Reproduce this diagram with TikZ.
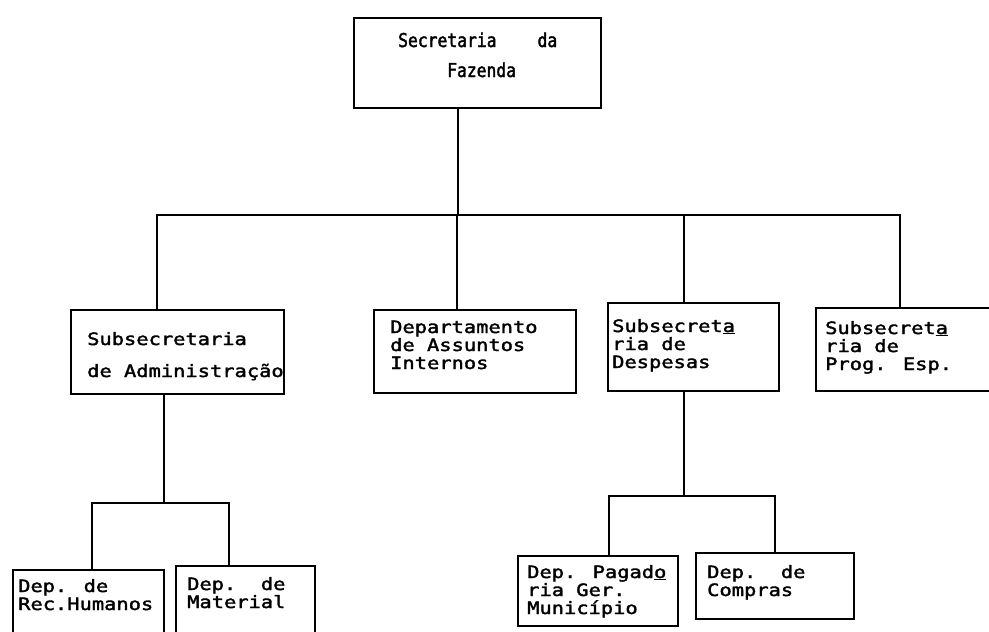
\documentclass[tikz,border=0pt]{standalone}
\usepackage{fontspec}
\newfontfamily\tw[FakeStretch=1.2,FakeBold=2]{DejaVu Sans Mono}
\newfontfamily\twtop[FakeStretch=0.86,FakeBold=2]{DejaVu Sans Mono}
\begin{document}
\begin{tikzpicture}[x=1pt,y=-1pt,
  box/.style={draw, line width=1.8pt, inner sep=0pt, anchor=north west},
  link/.style={line width=2.2pt, line cap=rect},
  txt/.style={inner sep=0pt, anchor=base west, font=\tw\fontsize{17}{18}\selectfont},
  toptxt/.style={inner sep=0pt, anchor=base west, font=\twtop\fontsize{19}{20}\selectfont}]
\useasboundingbox (0,0) rectangle (989,632);
\clip (0,0) rectangle (989,632);
\fill[white] (0,0) rectangle (989,632);
% boxes
\node[box, minimum width=247pt, minimum height=90pt] (sec) at (353,17) {};
\node[box, minimum width=213pt, minimum height=84pt] (adm) at (70,309) {};
\node[box, minimum width=202pt, minimum height=83pt] (dai) at (373,309) {};
\node[box, minimum width=171pt, minimum height=88pt] (desp) at (607,302) {};
\node[box, minimum width=190pt, minimum height=83pt] (prog) at (815,307) {};
\node[box, minimum width=151pt, minimum height=80pt] (rh) at (12,569) {};
\node[box, minimum width=139pt, minimum height=80pt] (mat) at (175,565) {};
\node[box, minimum width=160pt, minimum height=70pt] (pag) at (517,555) {};
\node[box, minimum width=158pt, minimum height=66pt] (comp) at (695,552) {};
% texts
\node[toptxt] (tsec1) at (398,47) {Secretaria\hspace{41pt}da};
\node[toptxt] (tsec2) at (447,77) {Fazenda};
\node[txt] (tadm1) at (87,345) {Subsecretaria};
\node[txt] (tadm2) at (87,377) {de Administração};
\node[txt] (tdai1) at (390,333) {Departamento};
\node[txt] (tdai2) at (390,351) {de Assuntos};
\node[txt] (tdai3) at (390,369) {Internos};
\node[txt] (tdesp1) at (612,332) {Subsecret\underline{a}};
\node[txt] (tdesp2) at (612,350) {ria de};
\node[txt] (tdesp3) at (612,368) {Despesas};
\node[txt] (tprog1) at (825,334) {Subsecret\underline{a}};
\node[txt] (tprog2) at (825,352) {ria de};
\node[txt] (tprog3) at (825,370) {Prog. Esp.};
\node[txt] (trh1) at (18,592) {Dep. de};
\node[txt] (trh2) at (18,610) {Rec.Humanos};
\node[txt] (tmat1) at (187,590) {Dep.~~de};
\node[txt] (tmat2) at (187,608) {Material};
\node[txt] (tpag1) at (527,578) {Dep. Pagad\underline{o}};
\node[txt] (tpag2) at (527,596) {ria Ger.};
\node[txt] (tpag3) at (527,614) {Município};
\node[txt] (tcomp1) at (707,578) {Dep.~~de};
\node[txt] (tcomp2) at (707,596) {Compras};
% main bus
\coordinate (b0) at (458,215);
\coordinate (b1) at (157,215);
\coordinate (b2) at (457,215);
\coordinate (b3) at (684,215);
\coordinate (b4) at (900,215);
\draw[link] (sec.south -| b0) -- (b0);
\draw[link] (b1) -- (b4);
\draw[link] (b1) -- (b1 |- adm.north);
\draw[link] (b2) -- (b2 |- dai.north);
\draw[link] (b3) -- (b3 |- desp.north);
\draw[link] (b4) -- (b4 |- prog.north);
% left subtree
\coordinate (c0) at (164,503);
\coordinate (c1) at (92,503);
\coordinate (c2) at (229,503);
\draw[link] (adm.south -| c0) -- (c0);
\draw[link] (c1) -- (c2);
\draw[link] (c1) -- (c1 |- rh.north);
\draw[link] (c2) -- (c2 |- mat.north);
% right subtree
\coordinate (d0) at (684,496);
\coordinate (d1) at (609,496);
\coordinate (d2) at (775,496);
\draw[link] (desp.south -| d0) -- (d0);
\draw[link] (d1) -- (d2);
\draw[link] (d1) -- (d1 |- pag.north);
\draw[link] (d2) -- (d2 |- comp.north);
\end{tikzpicture}
\end{document}
